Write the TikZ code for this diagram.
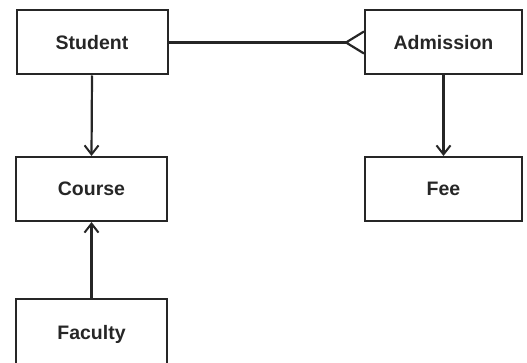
\documentclass[tikz,border=0pt]{standalone}
\usepackage{fontspec}
\setmainfont{Liberation Sans}
\usetikzlibrary{arrows.meta}
\begin{document}
\begin{tikzpicture}[x=1pt,y=-1pt,
  entity/.style={draw=black!85,line width=2pt,minimum width=151pt,minimum height=64pt,inner sep=0pt,font=\fontsize{19.5}{22}\selectfont\bfseries,text=black!85},
  conn/.style={draw=black!85,line width=2.2pt},
  arr/.style={conn,-{Straight Barb[length=9pt,width=14pt,line width=2pt]}}]
\useasboundingbox (0,0) rectangle (527,363);
\node[entity] (student) at (92,42.5) {Student};
\node[entity,minimum width=157pt] (admission) at (443.5,42.5) {Admission};
\node[entity] (course) at (91.5,189) {Course};
\node[entity,minimum width=157pt] (fee) at (443.5,189) {Fee};
\node[entity,minimum height=70pt] (faculty) at (91.5,334) {Faculty};
\coordinate (crow) at ([xshift=-18pt]admission.west);
\draw[conn] (student.east) -- (crow);
\draw[conn] ([yshift=-11pt]admission.west) -- (crow) -- ([yshift=11pt]admission.west);
\draw[arr] (student.south) -- (course.north);
\draw[arr] (admission.south) -- (fee.north);
\draw[arr] (faculty.north) -- (course.south);
\end{tikzpicture}
\end{document}
